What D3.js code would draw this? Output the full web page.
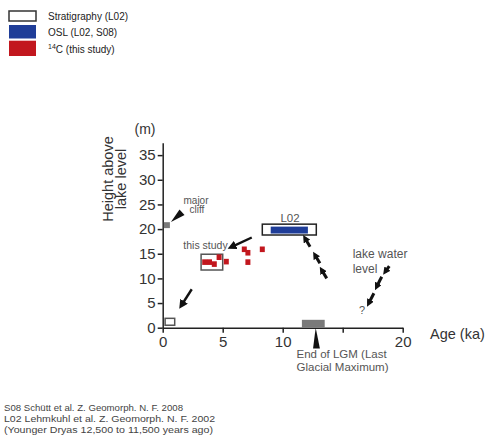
<!DOCTYPE html>
<html>
<head>
<meta charset="utf-8">
<style>
    body { margin: 0; background: #fff; font-family: "Liberation Sans", Arial, sans-serif; }
    .axis path, .axis line { stroke: #222; stroke-width: 1.5; }
    .axis text { font-size: 15px; fill: #333; font-family: "Liberation Sans", Arial, sans-serif; }
    .note { fill: #555; font-family: "Liberation Sans", Arial, sans-serif; }
</style>
<script src="https://cdn.jsdelivr.net/npm/d3@7"></script>
</head>
<body>
<div id="chart"></div>
<script>
    // 14C samples (this study)
    let c14Age    = [3.5, 3.9, 4.3, 4.7, 5.3, 6.8, 7.1, 7.1, 8.3];
    let c14Height = [13.3, 13.3, 12.9, 14.3, 13.4, 15.9, 15.2, 13.3, 15.9];

    let ageTicks = [0, 5, 10, 15, 20];
    let ageLabels = {0: "0", 5: "5", 10: "10", 20: "20"};
    let heightTicks = [0, 5, 10, 15, 20, 25, 30, 35];

    // rectangles: [age0, age1, h0, h1]
    let stratBox   = [0.2, 1.0, 0.5, 1.9];
    let cliffBox   = [0.1, 0.6, 20.2, 21.4];
    let studyBox   = [3.2, 5.0, 11.7, 14.9];
    let l02Box     = [8.3, 12.8, 18.8, 21.0];
    let oslBox     = [9.0, 12.1, 19.1, 20.5];
    let lgmBar     = [11.6, 13.5, 0, 1.6];

    // arrows: [ageFrom, hFrom, ageTo, hTo]
    let bigArrows = [
        [7.42, 18.3, 5.75, 16.4],
        [2.42, 7.8, 1.58, 4.6]
    ];
    let smallArrows = [
        [12.28, 16.43, 11.86, 18.13],
        [13.10, 13.06, 12.69, 14.75],
        [13.67, 10.00, 13.25, 11.70],
        [18.88, 12.50, 18.55, 11.36],
        [18.25, 10.34, 17.83, 8.30],
        [17.60, 6.98, 17.17, 4.95]
    ];
    let cliffWedge = [[0.69, 21.44], [1.4, 23.98], [1.82, 22.86]];
    let lgmWedge = [[12.75, 0], [12.53, -4.2], [13.1, -4.2]];

    let legendLabels = ["Stratigraphy (L02)", "OSL (L02, S08)", "C (this study)"];
    let refs = [
        "S08  Schütt et al. Z. Geomorph. N. F. 2008",
        "L02  Lehmkuhl et al. Z. Geomorph. N. F. 2002",
        "(Younger Dryas 12,500 to 11,500 years ago)"
    ];

    let width = 486, height = 441;
    let svg = d3.select("#chart").append("svg")
        .attr("width", width).attr("height", height);

    let x = d3.scaleLinear().domain([0, 20]).range([162.7, 402.7]);
    let y = d3.scaleLinear().domain([0, 37.5]).range([327.7, 142.8]);

    let defs = svg.append("defs");
    defs.append("marker").attr("id", "head")
        .attr("viewBox", "0 0 10 10").attr("refX", 5).attr("refY", 5)
        .attr("markerUnits", "userSpaceOnUse")
        .attr("markerWidth", 9).attr("markerHeight", 9)
        .attr("orient", "auto")
        .append("path").attr("d", "M0,0 L10,5 L0,10 z").attr("fill", "#111");
    defs.append("marker").attr("id", "headS")
        .attr("viewBox", "0 0 10 10").attr("refX", 5).attr("refY", 5)
        .attr("markerUnits", "userSpaceOnUse")
        .attr("markerWidth", 7.5).attr("markerHeight", 7.5)
        .attr("orient", "auto")
        .append("path").attr("d", "M0,0 L10,5 L0,10 z").attr("fill", "#111");

    function rect(b, fill, stroke, sw) {
        return svg.append("rect")
            .attr("x", x(b[0])).attr("y", y(b[3]))
            .attr("width", x(b[1]) - x(b[0]))
            .attr("height", y(b[2]) - y(b[3]))
            .attr("fill", fill)
            .attr("stroke", stroke || "none")
            .attr("stroke-width", sw || 0);
    }

    // axes
    svg.append("g").attr("class", "axis")
        .attr("transform", "translate(0," + y(0) + ")")
        .call(d3.axisBottom(x).tickValues(ageTicks).tickSize(5).tickPadding(4).tickSizeOuter(0)
            .tickFormat(d => ageLabels[d] || ""));
    svg.append("g").attr("class", "axis")
        .attr("transform", "translate(" + x(0) + ",0)")
        .call(d3.axisLeft(y).tickValues(heightTicks).tickSize(5).tickPadding(2).tickSizeOuter(0));

    // boxes
    rect(lgmBar, "#7a7a7a");
    rect(stratBox, "#fff", "#555", 1.5);
    rect(cliffBox, "#7a7a7a");
    rect(studyBox, "none", "#555", 1.5);
    rect(l02Box, "#fff", "#222", 1.5);
    rect(oslBox, "#1f3d98");

    svg.selectAll(".c14").data(c14Age).enter().append("rect")
        .attr("class", "c14")
        .attr("x", (d) => x(d) - 2.5)
        .attr("y", (d, i) => y(c14Height[i]) - 2.8)
        .attr("width", 5).attr("height", 5.6)
        .attr("fill", "#c2171e");

    // wedges
    [cliffWedge, lgmWedge].forEach(w => {
        svg.append("polygon")
            .attr("points", w.map(p => x(p[0]) + "," + y(p[1])).join(" "))
            .attr("fill", "#111");
    });

    // arrows
    bigArrows.forEach(a => {
        svg.append("line")
            .attr("x1", x(a[0])).attr("y1", y(a[1]))
            .attr("x2", x(a[2])).attr("y2", y(a[3]))
            .attr("stroke", "#111").attr("stroke-width", 2.4)
            .attr("marker-end", "url(#head)");
    });
    smallArrows.forEach(a => {
        svg.append("line")
            .attr("x1", x(a[0])).attr("y1", y(a[1]))
            .attr("x2", x(a[2])).attr("y2", y(a[3]))
            .attr("stroke", "#111").attr("stroke-width", 3)
            .attr("marker-end", "url(#headS)");
    });

    // labels
    svg.append("text").attr("x", 145).attr("y", 134).attr("text-anchor", "middle")
        .attr("font-size", 14).attr("fill", "#333").text("(m)");
    let yt = svg.append("text").attr("transform", "translate(113,179) rotate(-90)")
        .attr("text-anchor", "middle").attr("font-size", 14.5).attr("fill", "#333");
    yt.append("tspan").attr("x", 0).attr("y", 0).text("Height above");
    yt.append("tspan").attr("x", 0).attr("y", 13).text("lake level");
    svg.append("text").attr("x", 430).attr("y", 339)
        .attr("font-size", 14.5).attr("fill", "#333").text("Age (ka)");

    svg.append("text").attr("class", "note").attr("x", 290).attr("y", 221.5)
        .attr("text-anchor", "middle").attr("font-size", 11.5).attr("fill", "#333").text("L02");
    svg.append("text").attr("class", "note").attr("x", 196).attr("y", 203.5)
        .attr("text-anchor", "middle").attr("font-size", 10).text("major");
    svg.append("text").attr("class", "note").attr("x", 197).attr("y", 213.3)
        .attr("text-anchor", "middle").attr("font-size", 10).text("cliff");
    svg.append("text").attr("class", "note").attr("x", 183.3).attr("y", 249)
        .attr("font-size", 10.5).attr("fill", "#333").text("this study");
    svg.append("text").attr("class", "note").attr("x", 352.7).attr("y", 258.3)
        .attr("font-size", 12).text("lake water");
    svg.append("text").attr("class", "note").attr("x", 352.7).attr("y", 272.7)
        .attr("font-size", 12).text("level");
    svg.append("text").attr("class", "note").attr("x", 359).attr("y", 314)
        .attr("font-size", 11).text("?");
    svg.append("text").attr("class", "note").attr("x", 296.5).attr("y", 357.5)
        .attr("font-size", 11.5).attr("fill", "#444").text("End of LGM (Last");
    svg.append("text").attr("class", "note").attr("x", 296.5).attr("y", 370.5)
        .attr("font-size", 11.5).attr("fill", "#444").text("Glacial Maximum)");

    // legend
    let legBoxes = [[11, 21, "#fff"], [25, 38.5, "#1f3d98"], [40.7, 56, "#c2171e"]];
    legBoxes.forEach((b, i) => {
        svg.append("rect").attr("x", 9).attr("y", b[0]).attr("width", 27).attr("height", b[1] - b[0])
            .attr("fill", b[2]).attr("stroke", i == 0 ? "#333" : "none").attr("stroke-width", 1.5);
    });
    let legY = [20, 36, 53];
    legendLabels.forEach((t, i) => {
        let tx = svg.append("text").attr("x", 48).attr("y", legY[i])
            .attr("font-size", 10).attr("fill", "#222");
        if (i == 2) {
            tx.append("tspan").attr("font-size", 7).attr("dy", -4).text("14");
            tx.append("tspan").attr("dy", 4).text(t);
        } else {
            tx.text(t);
        }
    });

    // references
    let refY = [411, 422, 432.5];
    refs.forEach((t, i) => {
        svg.append("text").attr("x", 4).attr("y", refY[i])
            .attr("font-size", 9.6).attr("fill", "#444")
            .attr("textLength", [179, 211, 209][i]).attr("lengthAdjust", "spacingAndGlyphs")
            .text(t);
    });
</script>
</body>
</html>
